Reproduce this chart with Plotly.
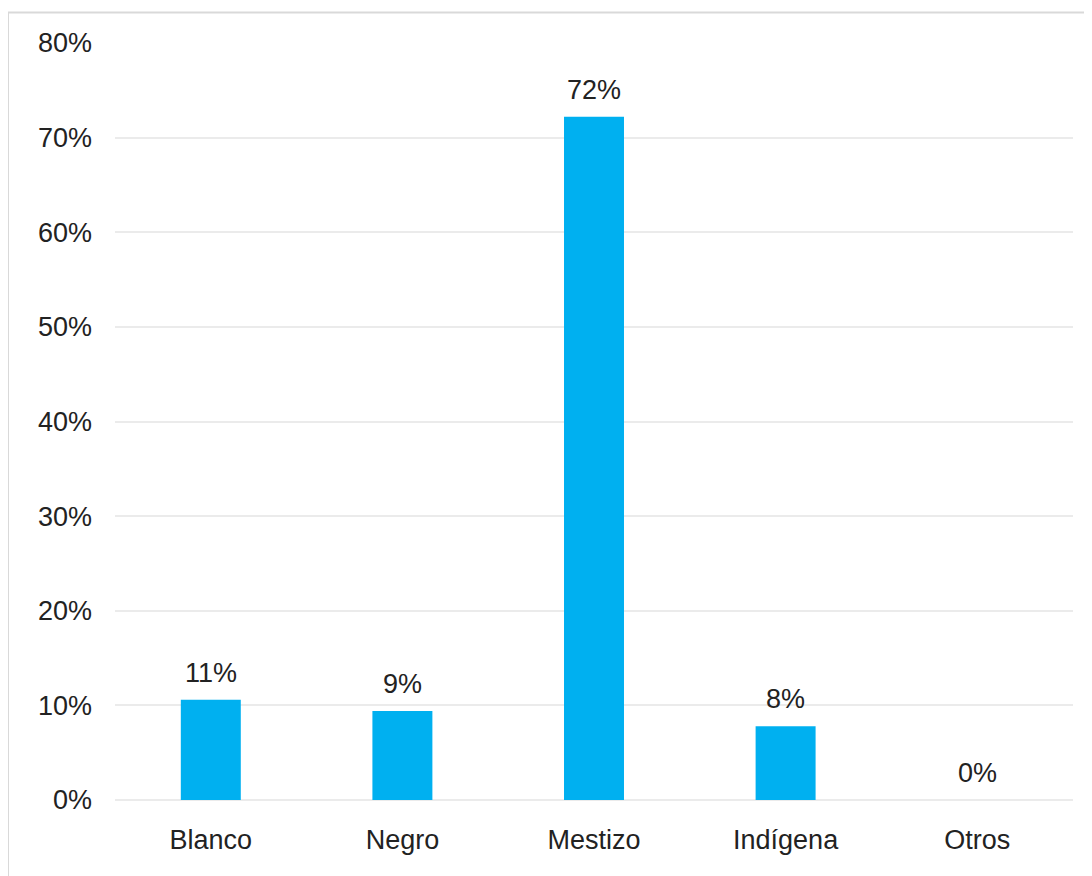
import plotly.graph_objects as go

categories = ["Blanco", "Negro", "Mestizo", "Indígena", "Otros"]
values = [10.6, 9.4, 72.2, 7.8, 0.0]
tick_vals = [0, 10, 20, 30, 40, 50, 60, 70, 80]
tick_text = [f"{v}%" for v in tick_vals]
labels = [f"{round(v)}%" for v in values]

FONT = "Liberation Sans, Arial, sans-serif"
TXT = "#222222"
FS = 27

fig = go.Figure()
fig.add_trace(go.Bar(
    x=categories, y=values,
    marker=dict(color="#00B0F0", line=dict(width=0)),
    width=0.313,
    hoverinfo="skip",
))

for c, v, t in zip(categories, values, labels):
    fig.add_annotation(x=c, y=v, text=t, showarrow=False,
                       yanchor="bottom", yshift=10,
                       font=dict(family=FONT, size=FS, color=TXT))

fig.update_layout(
    width=1092, height=876,
    margin=dict(l=107, r=27, t=35, b=84),
    paper_bgcolor="white", plot_bgcolor="white",
    showlegend=False,
    font=dict(family=FONT, size=FS, color=TXT),
    xaxis=dict(showgrid=False, showline=False, zeroline=False,
               ticks="", ticklabelstandoff=21,
               tickfont=dict(family=FONT, size=FS, color=TXT)),
    yaxis=dict(range=[0, 80], tickvals=tick_vals, ticktext=tick_text,
               showgrid=True, gridcolor="#ebebeb", gridwidth=2,
               zeroline=True, zerolinecolor="#ebebeb", zerolinewidth=2,
               showline=False, ticks="", ticklabelstandoff=22,
               tickfont=dict(family=FONT, size=FS, color=TXT)),
    shapes=[
        dict(type="line", xref="paper", yref="paper",
             x0=-0.1117, x1=1.05, y0=1.0403, y1=1.0403,
             line=dict(color="#d9d9d9", width=2)),
        dict(type="line", xref="paper", yref="paper",
             x0=-0.1117, x1=-0.1117, y0=-0.12, y1=1.0403,
             line=dict(color="#d9d9d9", width=2)),
    ],
)

fig.write_html("out.html")
